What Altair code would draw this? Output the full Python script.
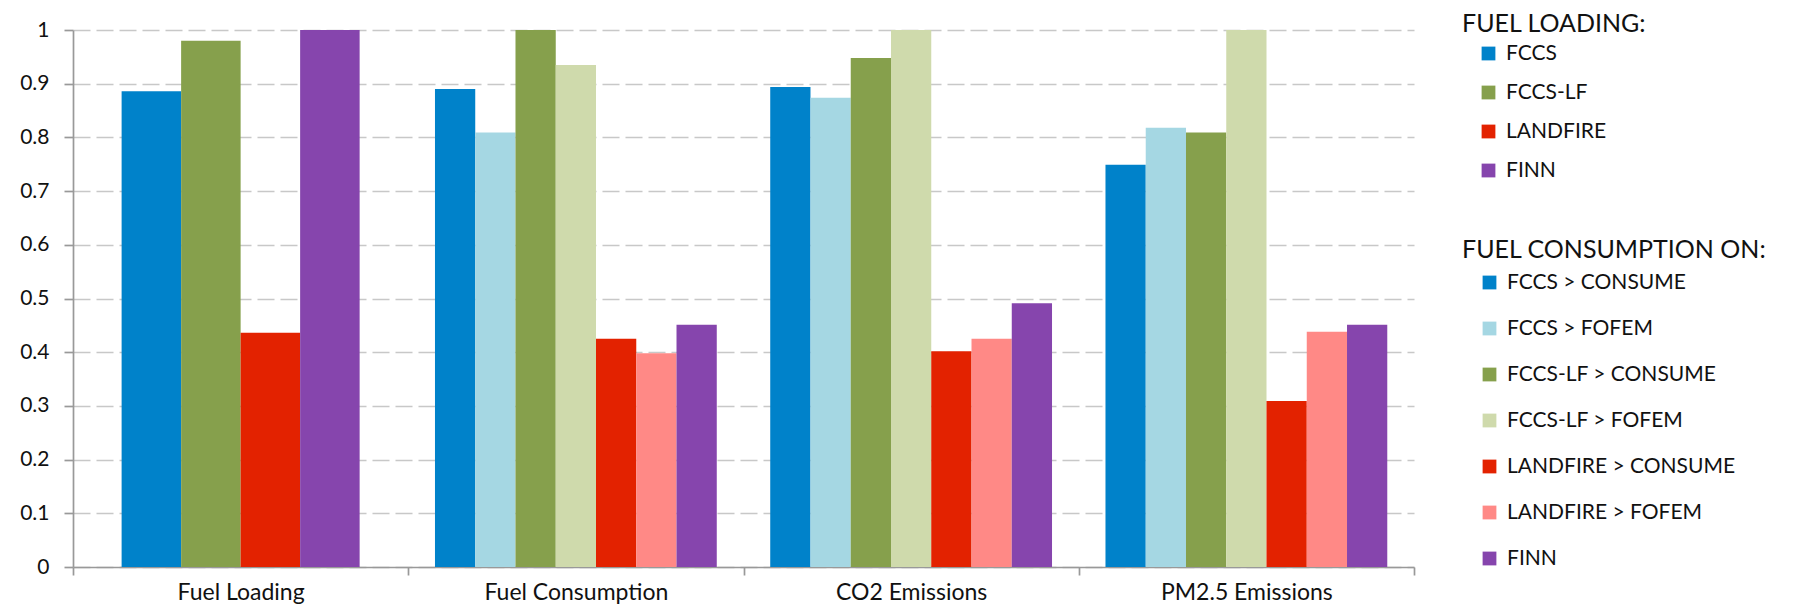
import altair as alt
import pandas as pd

categories = ["Fuel Loading", "Fuel Consumption", "CO2 Emissions", "PM2.5 Emissions"]

loading_series = ["FCCS", "FCCS-LF", "LANDFIRE", "FINN"]
loading_values = [0.886, 0.980, 0.436, 1.0]
loading_colors = ["#0082CA", "#86A04C", "#E32200", "#8645AD"]

consumption_series = ["FCCS > CONSUME", "FCCS > FOFEM", "FCCS-LF > CONSUME",
                      "FCCS-LF > FOFEM", "LANDFIRE > CONSUME", "LANDFIRE > FOFEM", "FINN"]
consumption_colors = ["#0082CA", "#A5D7E3", "#86A04C", "#CFDAAC", "#E32200", "#FF8986", "#8645AD"]
fuel_consumption = [0.890, 0.809, 1.0, 0.935, 0.425, 0.398, 0.451]
co2_emissions = [0.894, 0.874, 0.948, 1.0, 0.402, 0.425, 0.491]
pm25_emissions = [0.749, 0.818, 0.809, 1.0, 0.309, 0.438, 0.451]

df1 = pd.DataFrame({"category": "Fuel Loading", "series": loading_series, "value": loading_values})
rows = []
for cat, vals in zip(categories[1:], [fuel_consumption, co2_emissions, pm25_emissions]):
    for s, v in zip(consumption_series, vals):
        rows.append({"category": cat, "series2": s, "value": v})
df2 = pd.DataFrame(rows)

FONT = "Lato"

x_enc = alt.X("category:N", sort=categories,
              scale=alt.Scale(domain=categories, paddingInner=0, paddingOuter=0),
              axis=alt.Axis(title=None, tickBand="extent", labelAngle=0, labelFontSize=23,
                            labelPadding=6, labelLimit=400, tickSize=8, labelColor="#111"))
y_enc = alt.Y("value:Q",
              scale=alt.Scale(domain=[0, 1], nice=False),
              axis=alt.Axis(title=None, values=[i / 10 for i in range(11)], format="~g",
                            labelFontSize=21, labelPadding=15, tickSize=9, labelColor="#111",
                            grid=True, gridDash=[17, 6], gridColor="#C8C8C8", gridWidth=1.7))

bars1 = alt.Chart(df1).mark_bar().encode(
    x=x_enc,
    y=y_enc,
    xOffset=alt.XOffset("series:N", sort=loading_series,
                        scale=alt.Scale(domain=loading_series, paddingInner=0, paddingOuter=0.817)),
    color=alt.Color("series:N", sort=loading_series,
                    scale=alt.Scale(domain=loading_series, range=loading_colors),
                    legend=alt.Legend(title="FUEL LOADING:", orient="none", legendX=1389, legendY=-18,
                                      symbolType="square", symbolSize=190, titlePadding=6,
                                      rowPadding=17, labelOffset=7, symbolOffset=16,
                                      titleFontSize=25, labelFontSize=21, titleFontWeight="normal",
                                      labelLimit=400, titleLimit=400,
                                      symbolStrokeWidth=0)),
)

bars2 = alt.Chart(df2).mark_bar().encode(
    x=x_enc,
    y=y_enc,
    xOffset=alt.XOffset("series2:N", sort=consumption_series,
                        scale=alt.Scale(domain=consumption_series, paddingInner=0, paddingOuter=0.664)),
    color=alt.Color("series2:N", sort=consumption_series,
                    scale=alt.Scale(domain=consumption_series, range=consumption_colors),
                    legend=alt.Legend(title="FUEL CONSUMPTION ON:", orient="none", legendX=1389, legendY=208,
                                      symbolType="square", symbolSize=190, titlePadding=9,
                                      rowPadding=24, labelOffset=7, symbolOffset=17,
                                      titleFontSize=25, labelFontSize=21, titleFontWeight="normal",
                                      labelLimit=400, titleLimit=400,
                                      symbolStrokeWidth=0)),
)

chart = alt.layer(bars1, bars2).resolve_scale(
    xOffset="independent", color="independent"
).properties(
    width=1341, height=537,
    autosize=alt.AutoSizeParams(type="none"),
    padding={"left": 65, "top": 22, "right": 365, "bottom": 38},
).configure_view(stroke=None).configure_axis(
    domainColor="#999999", domainWidth=1.7, tickColor="#999999", tickWidth=1.7,
    labelFont=FONT, titleFont=FONT,
).configure_legend(
    labelFont=FONT, titleFont=FONT, padding=0, labelColor="#111", titleColor="#111",
).configure_axisX(grid=False)

chart.save("out.html", embed_options={"renderer": "svg", "actions": False})
